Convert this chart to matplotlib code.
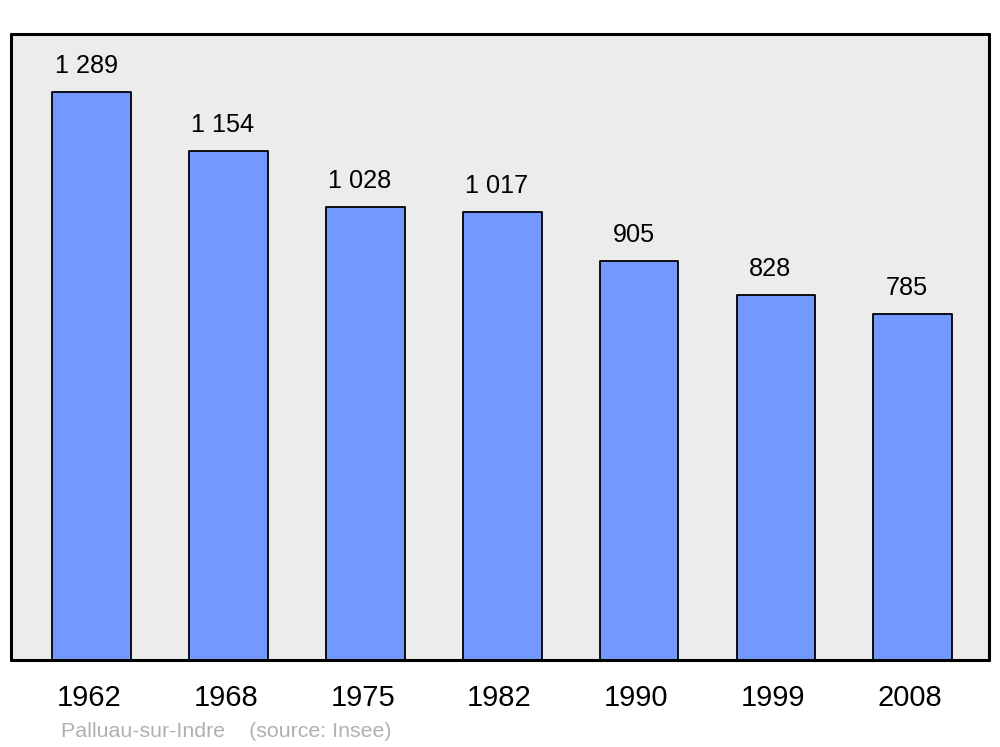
import matplotlib
matplotlib.use("Agg")
import matplotlib.pyplot as plt
from matplotlib.transforms import ScaledTranslation

years = ["1962", "1968", "1975", "1982", "1990", "1999", "2008"]
population = [1289, 1154, 1028, 1017, 905, 828, 785]
value_labels = ["1 289", "1 154", "1 028", "1 017", "905", "828", "785"]

plt.rcParams['font.family'] = ['Liberation Sans', 'DejaVu Sans']

fig = plt.figure(figsize=(10, 7.47), dpi=100)
ax = fig.add_axes([0.011, 0.1165, 0.978, 0.838])
ax.set_facecolor('#ececec')

x = list(range(len(years)))
bars = ax.bar(x, population, width=0.575, color='#7399ff', edgecolor='black',
              linewidth=1.3, zorder=2)
for b in bars:
    b.set_joinstyle('round')

ax.set_xlim(-0.59, 6.557)
ax.set_ylim(0, 1420.5)

for xi, v, lab in zip(x, population, value_labels):
    ax.annotate(lab, (xi, v), xytext=(-4.0, 13.7), textcoords='offset points',
                ha='center', va='baseline', fontsize=18.2, color='black')

ax.set_xticks(x)
ax.set_xticklabels(years, fontsize=21)
ax.tick_params(axis='x', length=0, pad=17)
ax.set_yticks([])
shift = ScaledTranslation(-2 / 72, 0, fig.dpi_scale_trans)
for lbl in ax.get_xticklabels():
    lbl.set_transform(lbl.get_transform() + shift)

for s in ax.spines.values():
    s.set_linewidth(2.2)
    s.set_capstyle('round')
    s.set_joinstyle('round')

fig.text(0.061, 0.0134, "Palluau-sur-Indre    (source: Insee)", fontsize=15.4,
         color='#b0b0b0', ha='left', va='baseline')

fig.savefig("out.png", dpi=100)
